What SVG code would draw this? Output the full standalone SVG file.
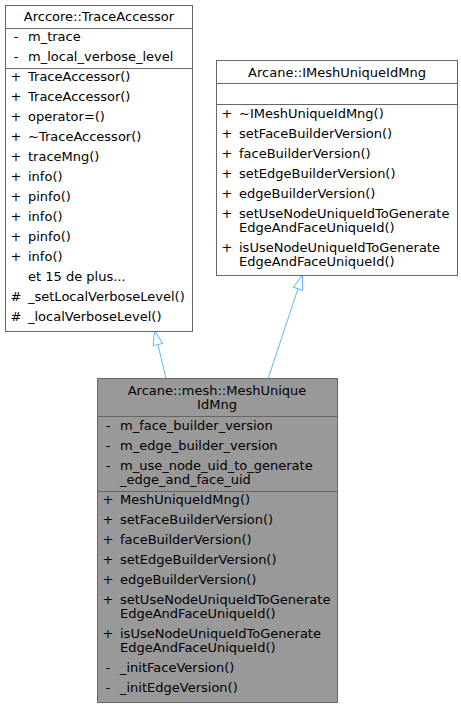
<svg xmlns="http://www.w3.org/2000/svg" width="461" height="708" viewBox="0 0 461 708">
<style>
text{font-family:"DejaVu Sans","Liberation Sans",sans-serif;font-size:13px;fill:#000}
.box{fill:#fff;stroke:#666;stroke-width:1}
.cur{fill:#999;stroke:#666;stroke-width:1}
.sep{stroke:#666;stroke-width:1}
.t{text-anchor:middle}
.s{text-anchor:middle}
.edge{fill:none;stroke:#63b8ff;stroke-width:1}
</style>
<defs>
<marker id="inh" markerUnits="userSpaceOnUse" markerWidth="17" markerHeight="12" viewBox="0 0 17 12" refX="15.5" refY="6" orient="auto">
<path d="M1,1.2 L15.5,6 L1,10.8 Z" fill="#fff" stroke="#63b8ff" stroke-width="1"/>
</marker>
</defs>
<rect width="461" height="708" fill="#fff"/>
<g id="connectors">
<path class="edge" d="M166,378.5 L154.5,330.5" marker-end="url(#inh)"/>
<path class="edge" d="M268.3,378 L302.5,275" marker-end="url(#inh)"/>
</g>
<g id="node-TraceAccessor">
<rect class="box" x="5.5" y="5.5" width="187" height="326"/>
<line class="sep" x1="5.5" y1="28.5" x2="192.5" y2="28.5"/>
<line class="sep" x1="5.5" y1="68.5" x2="192.5" y2="68.5"/>
<text class="t" x="99" y="21">Arccore::TraceAccessor</text>
<text class="s" x="16" y="41">-</text><text x="28" y="41">m_trace</text>
<text class="s" x="16" y="61">-</text><text x="28" y="61">m_local_verbose_level</text>
<text class="s" x="16" y="81">+</text><text x="28" y="81">TraceAccessor()</text>
<text class="s" x="16" y="101">+</text><text x="28" y="101">TraceAccessor()</text>
<text class="s" x="16" y="121">+</text><text x="28" y="121">operator=()</text>
<text class="s" x="16" y="141">+</text><text x="28" y="141">~TraceAccessor()</text>
<text class="s" x="16" y="161">+</text><text x="28" y="161">traceMng()</text>
<text class="s" x="16" y="181">+</text><text x="28" y="181">info()</text>
<text class="s" x="16" y="201">+</text><text x="28" y="201">pinfo()</text>
<text class="s" x="16" y="221">+</text><text x="28" y="221">info()</text>
<text class="s" x="16" y="241">+</text><text x="28" y="241">pinfo()</text>
<text class="s" x="16" y="261">+</text><text x="28" y="261">info()</text>
<text x="28" y="281">et 15 de plus...</text>
<text class="s" x="16" y="301">#</text><text x="28" y="301">_setLocalVerboseLevel()</text>
<text class="s" x="16" y="321">#</text><text x="28" y="321">_localVerboseLevel()</text>
</g>
<g id="node-IMeshUniqueIdMng">
<rect class="box" x="216.5" y="60.5" width="241" height="215"/>
<line class="sep" x1="216.5" y1="83.5" x2="457.5" y2="83.5"/>
<line class="sep" x1="216.5" y1="104.5" x2="457.5" y2="104.5"/>
<text class="t" x="337" y="77">Arcane::IMeshUniqueIdMng</text>
<text class="s" x="227" y="118">+</text><text x="239" y="118">~IMeshUniqueIdMng()</text>
<text class="s" x="227" y="138">+</text><text x="239" y="138">setFaceBuilderVersion()</text>
<text class="s" x="227" y="158">+</text><text x="239" y="158">faceBuilderVersion()</text>
<text class="s" x="227" y="178">+</text><text x="239" y="178">setEdgeBuilderVersion()</text>
<text class="s" x="227" y="198">+</text><text x="239" y="198">edgeBuilderVersion()</text>
<text class="s" x="227" y="218">+</text><text x="239" y="218">setUseNodeUniqueIdToGenerate</text>
<text x="239" y="232">EdgeAndFaceUniqueId()</text>
<text class="s" x="227" y="252">+</text><text x="239" y="252">isUseNodeUniqueIdToGenerate</text>
<text x="239" y="266">EdgeAndFaceUniqueId()</text>
</g>
<g id="node-MeshUniqueIdMng">
<rect class="cur" x="97.5" y="378.5" width="240" height="324"/>
<line class="sep" x1="97.5" y1="416.5" x2="337.5" y2="416.5"/>
<line class="sep" x1="97.5" y1="491.5" x2="337.5" y2="491.5"/>
<text class="t" x="217" y="395">Arcane::mesh::MeshUnique</text>
<text class="t" x="217" y="409">IdMng</text>
<text class="s" x="108" y="430">-</text><text x="120" y="430">m_face_builder_version</text>
<text class="s" x="108" y="450">-</text><text x="120" y="450">m_edge_builder_version</text>
<text class="s" x="108" y="470">-</text><text x="120" y="470">m_use_node_uid_to_generate</text>
<text x="120" y="484">_edge_and_face_uid</text>
<text class="s" x="108" y="504">+</text><text x="120" y="504">MeshUniqueIdMng()</text>
<text class="s" x="108" y="524">+</text><text x="120" y="524">setFaceBuilderVersion()</text>
<text class="s" x="108" y="544">+</text><text x="120" y="544">faceBuilderVersion()</text>
<text class="s" x="108" y="564">+</text><text x="120" y="564">setEdgeBuilderVersion()</text>
<text class="s" x="108" y="584">+</text><text x="120" y="584">edgeBuilderVersion()</text>
<text class="s" x="108" y="604">+</text><text x="120" y="604">setUseNodeUniqueIdToGenerate</text>
<text x="120" y="618">EdgeAndFaceUniqueId()</text>
<text class="s" x="108" y="638">+</text><text x="120" y="638">isUseNodeUniqueIdToGenerate</text>
<text x="120" y="652">EdgeAndFaceUniqueId()</text>
<text class="s" x="108" y="672">-</text><text x="120" y="672">_initFaceVersion()</text>
<text class="s" x="108" y="692">-</text><text x="120" y="692">_initEdgeVersion()</text>
</g>
</svg>
